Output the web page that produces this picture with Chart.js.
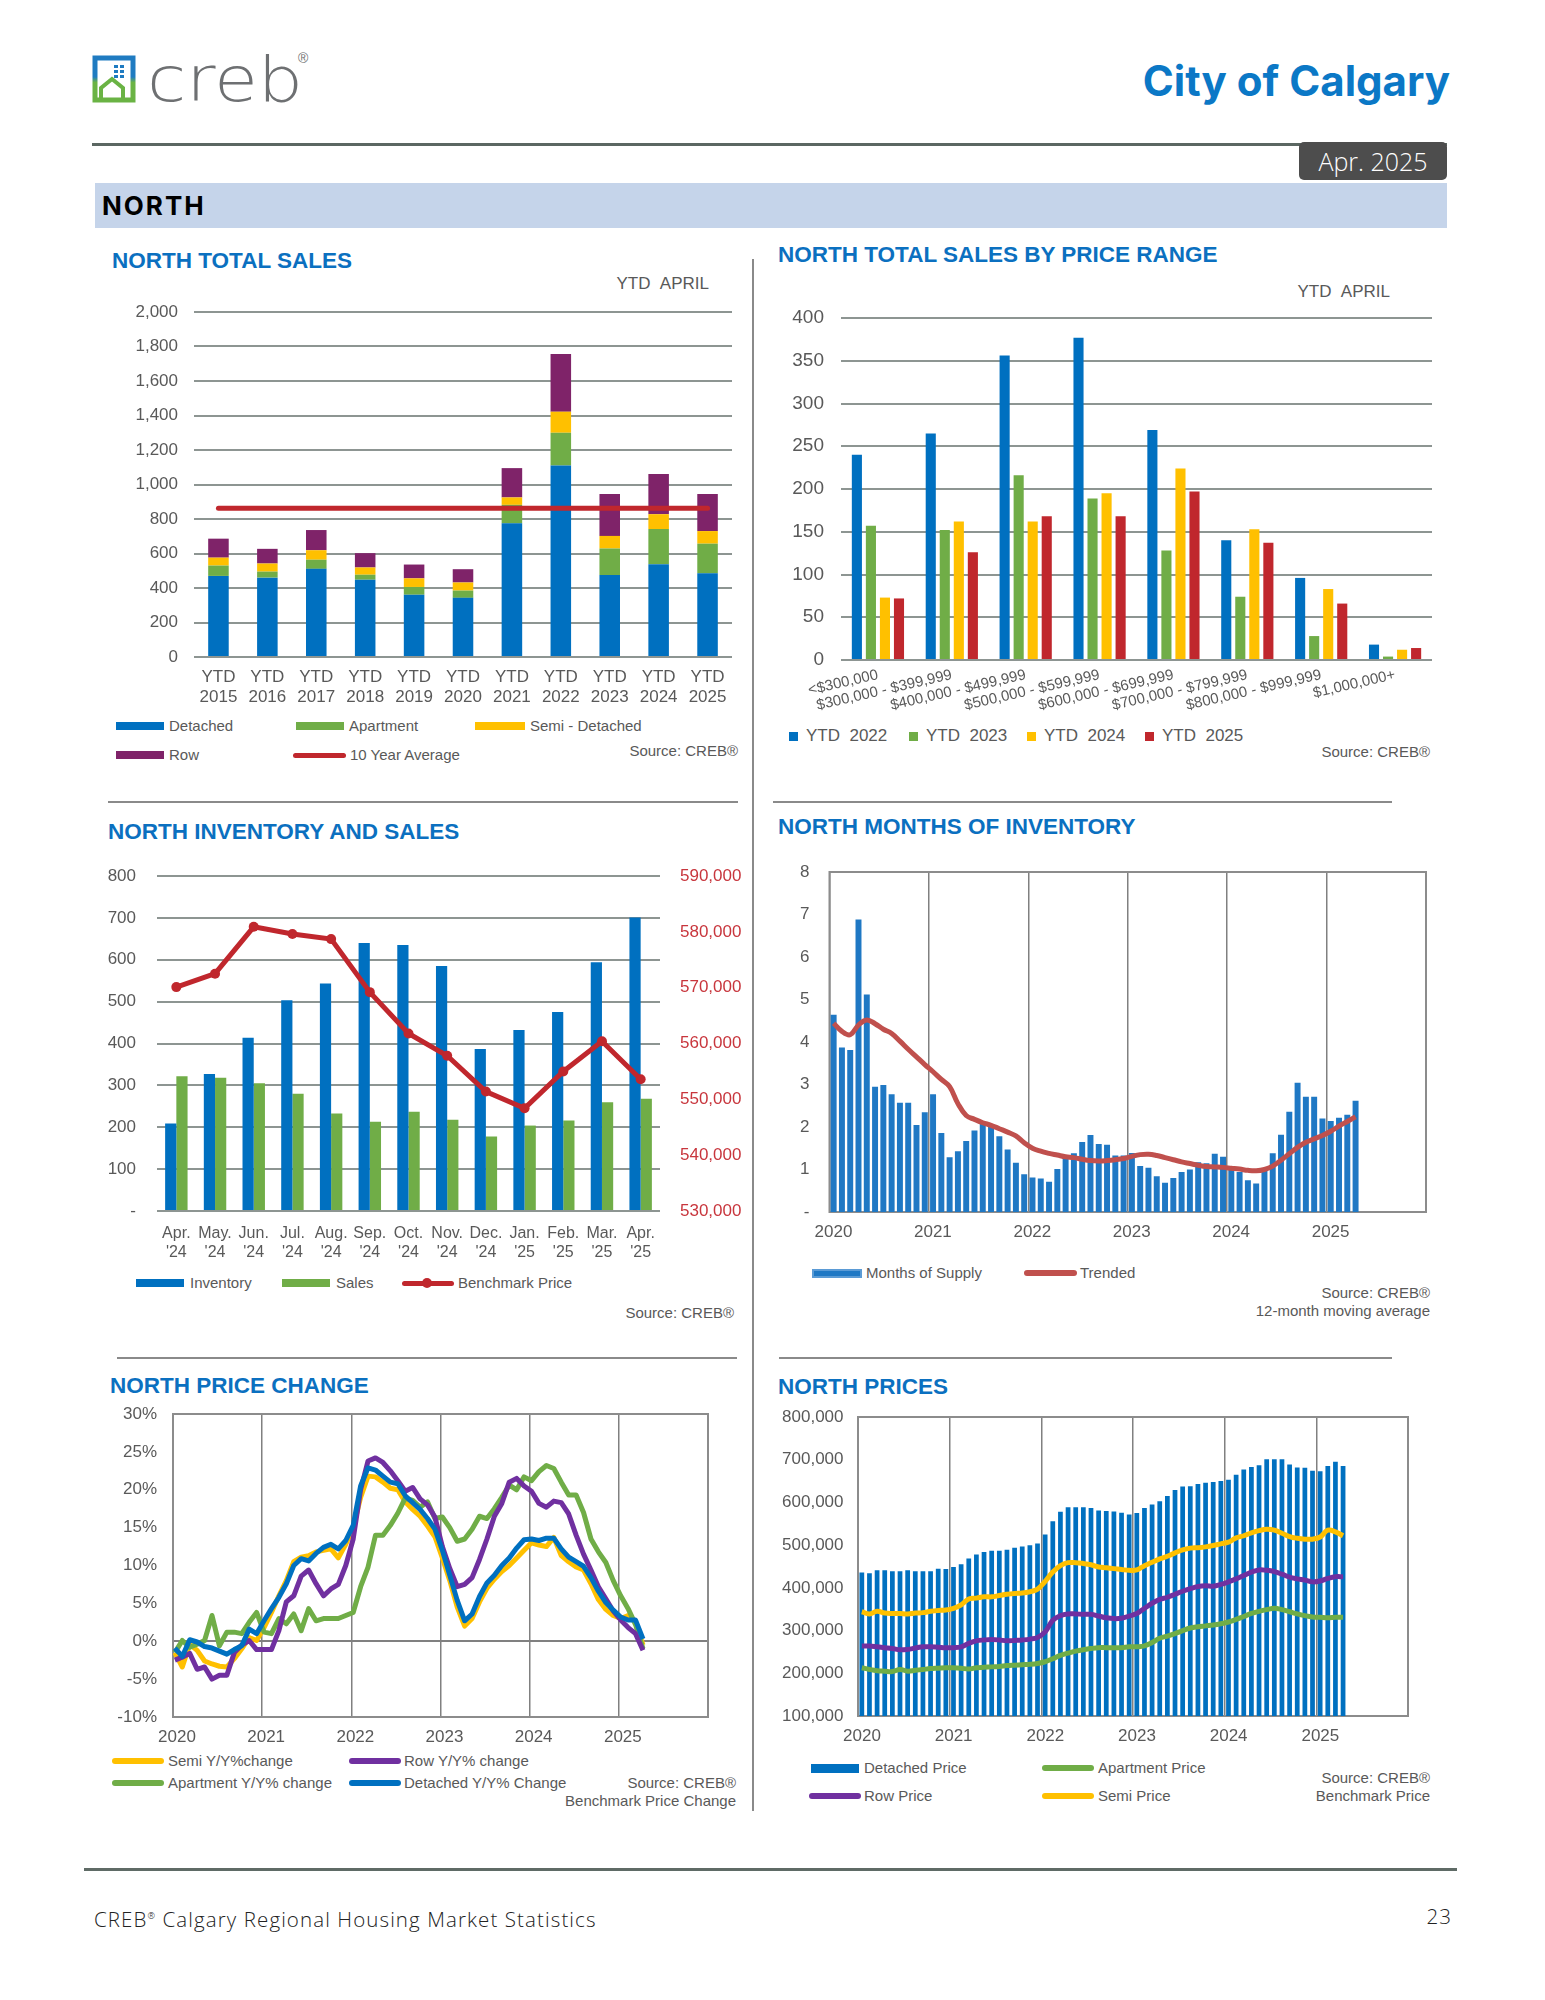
<!DOCTYPE html>
<html>
<head>
<meta charset="utf-8">
<script src="https://cdn.jsdelivr.net/npm/chart.js@4.4.1/dist/chart.umd.min.js"></script>
<style>
  body { margin: 0; background: #fff; width: 1545px; height: 2000px; position: relative; overflow: hidden;
         font-family: "Liberation Sans", Arial, sans-serif; }
  .abs { position: absolute; }
  .txt { position: absolute; white-space: nowrap; color: #595959; }
  canvas { position: absolute; }
</style>
</head>
<body>

<!-- header -->
<svg class="abs" style="left:92px;top:55px" width="44" height="48" viewBox="0 0 44 48">
  <defs>
    <linearGradient id="lg" x1="0" y1="0" x2="0" y2="1">
      <stop offset="0.45" stop-color="#1f7bc1"/>
      <stop offset="0.58" stop-color="#6ab344"/>
    </linearGradient>
  </defs>
  <path d="M3 3 H41 V45 H3 Z" fill="none" stroke="url(#lg)" stroke-width="5"/>
  <rect x="22" y="10" width="4" height="3" fill="#1f7bc1"/><rect x="28" y="10" width="4" height="3" fill="#1f7bc1"/>
  <rect x="22" y="15" width="4" height="3" fill="#1f7bc1"/><rect x="28" y="15" width="4" height="3" fill="#1f7bc1"/>
  <rect x="22" y="20" width="4" height="3" fill="#1f7bc1"/><rect x="28" y="20" width="4" height="3" fill="#1f7bc1"/>
  <path d="M9 45 V33 L20 24 L31 33 V45" fill="none" stroke="#6ab344" stroke-width="4"/>
</svg>
<div class="txt" style="left:147px;top:40px;font-family:'DejaVu Sans';font-weight:200;font-size:62px;line-height:80px;color:#6e7072;transform:scaleX(1.15);transform-origin:left top">creb</div>
<div class="txt" style="left:298px;top:50px;font-size:14px;color:#6e7072">®</div>
<div class="txt" style="right:95px;top:60px;font-family:Inter;font-weight:700;font-size:42px;line-height:42px;color:#0b78c6">City of Calgary</div>
<div class="abs" style="left:92px;top:143px;width:1355px;height:3px;background:#5b6762"></div>
<div class="abs" style="left:1299px;top:142px;width:148px;height:38px;background:#4d4d4d;border-radius:5px;color:#fff;font-family:'Open Sans';font-weight:300;font-size:25px;line-height:38px;text-align:center">Apr. 2025</div>
<div class="abs" style="left:95px;top:183px;width:1352px;height:45px;background:#c5d4ea"></div>
<div class="txt" style="left:102px;top:193px;font-family:Inter;font-weight:700;font-size:26px;line-height:26px;letter-spacing:2px;color:#000">NORTH</div>

<!-- dividers -->
<div class="abs" style="left:752px;top:259px;width:2px;height:1552px;background:#8a8a8a"></div>
<div class="abs" style="left:108px;top:801px;width:630px;height:2px;background:#8a8a8a"></div>
<div class="abs" style="left:773px;top:801px;width:619px;height:2px;background:#8a8a8a"></div>
<div class="abs" style="left:117px;top:1357px;width:620px;height:2px;background:#8a8a8a"></div>
<div class="abs" style="left:779px;top:1357px;width:613px;height:2px;background:#8a8a8a"></div>

<!-- footer -->
<div class="abs" style="left:84px;top:1868px;width:1373px;height:3px;background:#5f6b66"></div>
<div class="txt" style="left:94px;top:1902px;font-family:'Open Sans';font-weight:300;font-size:20.5px;line-height:28px;letter-spacing:1.1px;color:#222">CREB<sup style="font-size:9px">®</sup> Calgary Regional Housing Market Statistics</div>
<div class="txt" style="right:93px;top:1902px;font-family:'Open Sans';font-weight:300;font-size:20.5px;line-height:28px;letter-spacing:1px;color:#222">23</div>

<script>
// ---------------------------------------------------------------
// Data
// ---------------------------------------------------------------
const salesYears = [['YTD', '2015'], ['YTD', '2016'], ['YTD', '2017'], ['YTD', '2018'], ['YTD', '2019'], ['YTD', '2020'],
                    ['YTD', '2021'], ['YTD', '2022'], ['YTD', '2023'], ['YTD', '2024'], ['YTD', '2025']];
const detachedSales  = [470, 460, 511, 448, 361, 343, 775, 1110, 475, 538, 485];
const apartmentSales = [60, 35, 53, 29, 45, 42, 107, 190, 154, 204, 172];
const semiSales      = [46, 47, 55, 42, 50, 47, 43, 122, 73, 86, 73];
const rowSales       = [110, 85, 117, 83, 80, 77, 170, 335, 243, 233, 215];
const tenYearAverage = 862;

const priceRanges = ['<$300,000', '$300,000 - $399,999', '$400,000 - $499,999', '$500,000 - $599,999',
                     '$600,000 - $699,999', '$700,000 - $799,999', '$800,000 - $999,999', '$1,000,000+'];
const ytd2022 = [240, 265, 356, 377, 269, 140, 96, 18];
const ytd2023 = [157, 152, 216, 189, 128, 74, 28, 4];
const ytd2024 = [73, 162, 162, 195, 224, 153, 83, 12];
const ytd2025 = [72, 126, 168, 168, 197, 137, 66, 14];

const invMonths = [['Apr.', "'24"], ['May.', "'24"], ['Jun.', "'24"], ['Jul.', "'24"], ['Aug.', "'24"], ['Sep.', "'24"],
                   ['Oct.', "'24"], ['Nov.', "'24"], ['Dec.', "'24"], ['Jan.', "'25"], ['Feb.', "'25"], ['Mar.', "'25"], ['Apr.', "'25"]];
const inventory = [209, 327, 414, 503, 543, 640, 635, 585, 387, 432, 475, 594, 701];
const sales     = [322, 318, 305, 280, 233, 213, 237, 218, 178, 204, 216, 260, 268];
const benchmark = [570100, 572500, 580900, 579600, 578700, 569200, 561800, 557800, 551400, 548400, 555000, 560400, 553600];

// monthly, Jan 2020 .. Apr 2025
const firstYear = 2020;
const monthsOfSupply = [4.64, 3.87, 3.81, 6.88, 5.12, 2.95, 2.99, 2.77, 2.57, 2.57, 2.05, 2.35,
                        2.77, 1.86, 1.29, 1.43, 1.67, 1.92, 2.08, 2.00, 1.78, 1.47, 1.16, 0.89,
                        0.81, 0.79, 0.71, 1.01, 1.30, 1.38, 1.65, 1.81, 1.60, 1.58, 1.33, 1.33,
                        1.39, 1.08, 1.04, 0.84, 0.69, 0.80, 0.94, 1.00, 1.17, 1.15, 1.37, 1.30,
                        1.02, 0.94, 0.75, 0.67, 0.98, 1.38, 1.82, 2.36, 3.04, 2.71, 2.71, 2.20,
                        2.14, 2.22, 2.29, 2.62];
const trended = [4.44, 4.25, 4.17, 4.40, 4.52, 4.43, 4.30, 4.20, 4.02, 3.83, 3.65, 3.47,
                 3.30, 3.12, 2.95, 2.55, 2.27, 2.18, 2.10, 2.04, 1.96, 1.88, 1.79, 1.63,
                 1.50, 1.43, 1.38, 1.34, 1.30, 1.28, 1.24, 1.21, 1.20, 1.21, 1.23, 1.26,
                 1.31, 1.35, 1.36, 1.33, 1.28, 1.23, 1.18, 1.14, 1.10, 1.07, 1.06, 1.05,
                 1.03, 1.01, 0.98, 0.97, 1.00, 1.08, 1.22, 1.37, 1.52, 1.64, 1.72, 1.80,
                 1.90, 2.02, 2.13, 2.24];

const semiChange = [-1.5, -3.4, -0.4, -1.2, -2.6, -3.0, -3.3, -3.4, -2.3, -1.0, 0.5, 0.1,
                    1.8, 3.8, 6.0, 8.0, 10.5, 11.1, 11.3, 11.8, 12.0, 12.2, 11.0, 12.8,
                    15.0, 19.0, 21.8, 21.7, 21.0, 20.2, 20.0, 18.4, 17.4, 16.5, 15.2, 13.8,
                    11.0, 8.0, 4.5, 2.0, 3.0, 5.2, 7.0, 8.2, 9.2, 10.0, 11.0, 12.0,
                    13.0, 12.7, 12.5, 13.7, 11.3, 10.5, 9.8, 9.4, 7.6, 5.5, 4.2, 3.4,
                    3.0, 3.4, 2.5, -0.5];
const rowChange = [-2.5, -2.1, -1.6, -3.7, -3.4, -5.0, -4.5, -4.5, -1.5, -0.5, 0.1, -1.1,
                   -1.1, -1.1, 1.4, 5.2, 6.0, 8.6, 9.4, 7.6, 6.0, 6.9, 7.5, 10.0,
                   13.5, 20.0, 23.8, 24.2, 23.6, 22.5, 21.2, 19.8, 20.3, 18.8, 18.0, 16.4,
                   12.5, 9.6, 7.2, 7.5, 8.4, 10.8, 13.5, 16.5, 18.2, 21.0, 21.5, 20.5,
                   19.8, 18.2, 17.7, 18.5, 18.3, 16.8, 14.0, 11.5, 9.4, 7.2, 5.6, 4.0,
                   2.8, 1.8, 1.0, -1.2];
const apartmentChange = [-1.5, 0.1, -0.8, -0.4, 0.1, 3.4, -0.6, 1.2, 1.2, 1.0, 2.5, 3.8,
                         1.2, 1.0, 3.0, 2.3, 3.6, 1.4, 4.3, 2.7, 3.0, 3.0, 3.0, 3.4,
                         3.8, 7.2, 9.8, 14.0, 14.0, 15.3, 16.9, 18.9, 18.6, 17.7, 18.4, 16.2,
                         16.4, 15.0, 13.2, 13.5, 14.8, 16.5, 16.2, 17.5, 19.0, 20.6, 20.0, 21.7,
                         21.2, 22.4, 23.2, 22.8, 21.0, 19.3, 19.3, 17.0, 13.5, 11.8, 10.4, 8.0,
                         6.0, 4.3, 2.2, -1.0];
const detachedChange = [-0.9, -2.0, 0.2, -0.1, -0.7, -0.9, -1.3, -1.7, -1.1, -0.6, 1.6, 1.0,
                        2.7, 4.3, 5.8, 7.6, 10.0, 10.9, 10.6, 11.6, 12.4, 12.8, 12.2, 13.3,
                        15.3, 20.5, 22.9, 22.6, 21.8, 21.0, 20.8, 19.2, 18.3, 17.4, 16.2, 14.8,
                        12.0, 8.7, 5.4, 2.7, 3.6, 5.9, 7.7, 8.7, 10.0, 11.0, 12.3, 13.4,
                        13.5, 13.3, 13.6, 13.6, 12.2, 11.1, 10.5, 9.9, 8.4, 6.6, 5.1, 4.1,
                        3.2, 2.8, 2.8, 0.3];

const detachedPrice = [436000, 434000, 441000, 441000, 439000, 439000, 441000, 439000, 439000, 439000, 445000, 444000,
                       449000, 455000, 469000, 478000, 484000, 487000, 487000, 489000, 494000, 497000, 500000, 504000,
                       525000, 556000, 578000, 589000, 589000, 589000, 587000, 581000, 580000, 579000, 576000, 572000,
                       575000, 587000, 595000, 603000, 615000, 629000, 637000, 638000, 643000, 646000, 648000, 650000,
                       653000, 665000, 677000, 683000, 687000, 701000, 701000, 701000, 689000, 682000, 681000, 674000,
                       673000, 685000, 695000, 685000];
const apartmentPrice = [213000, 209000, 206000, 205000, 204000, 209000, 205000, 207000, 209000, 211000, 212000, 213000,
                        213000, 212000, 210000, 213000, 214000, 215000, 216000, 218000, 219000, 220000, 221000, 223000,
                        227000, 234000, 242000, 247000, 252000, 255000, 258000, 260000, 260000, 260000, 260000, 262000,
                        262000, 264000, 272000, 282000, 287000, 293000, 300000, 306000, 309000, 311000, 313000, 316000,
                        320000, 326000, 333000, 340000, 345000, 349000, 352000, 349000, 344000, 339000, 335000, 332000,
                        331000, 330000, 331000, 331000];
const rowPrice = [264000, 264000, 262000, 260000, 258000, 255000, 256000, 259000, 262000, 262000, 261000, 260000,
                  260000, 262000, 270000, 276000, 278000, 279000, 278000, 276000, 277000, 278000, 280000, 284000,
                  297000, 324000, 335000, 339000, 339000, 338000, 338000, 334000, 330000, 328000, 329000, 334000,
                  340000, 352000, 364000, 373000, 378000, 385000, 392000, 398000, 403000, 405000, 404000, 408000,
                  414000, 421000, 429000, 437000, 442000, 441000, 438000, 432000, 425000, 421000, 418000, 414000,
                  416000, 422000, 426000, 426000];
const semiPrice = [344000, 339000, 345000, 341000, 340000, 340000, 339000, 341000, 342000, 345000, 347000, 348000,
                   352000, 360000, 374000, 376000, 379000, 379000, 382000, 385000, 387000, 388000, 391000, 397000,
                   415000, 437000, 452000, 459000, 459000, 457000, 454000, 449000, 447000, 445000, 443000, 441000,
                   442000, 452000, 460000, 468000, 474000, 482000, 489000, 493000, 494000, 496000, 499000, 503000,
                   507000, 517000, 522000, 529000, 534000, 537000, 535000, 528000, 520000, 516000, 514000, 514000,
                   519000, 535000, 531000, 522000];

// ---------------------------------------------------------------
// Colours & helpers
// ---------------------------------------------------------------
const BLUE = '#0070c0', GREEN = '#70ad47', YELLOW = '#ffc000', PURPLE = '#7f2369', RED = '#c0272d';
const GRID = '#8d9592', GREY_TXT = '#595959', TITLE = '#0b70c0';

Chart.defaults.font.family = '"Liberation Sans", Arial, sans-serif';
Chart.defaults.color = GREY_TXT;
Chart.defaults.animation = false;
Chart.defaults.plugins.legend.display = false;
Chart.defaults.plugins.tooltip.enabled = false;

function txt(s, x, cy, size, o = {}) {
  const d = document.createElement('div');
  d.className = 'txt';
  d.innerHTML = s;
  d.style.fontSize = size + 'px';
  d.style.lineHeight = (size * 1.2) + 'px';
  d.style.top = (cy - size * 0.6) + 'px';
  if (o.right) d.style.right = (1545 - x) + 'px'; else d.style.left = x + 'px';
  if (o.color) d.style.color = o.color;
  if (o.bold) d.style.fontWeight = 'bold';
  document.body.appendChild(d);
}
function box(x, cy, w, h, color, radius = 0, extra = '') {
  const d = document.createElement('div');
  d.className = 'abs';
  d.style.cssText = `left:${x}px;top:${cy - h / 2}px;width:${w}px;height:${h}px;background:${color};border-radius:${radius}px;${extra}`;
  document.body.appendChild(d);
}
function makeCanvas(x, y, w, h) {
  const c = document.createElement('canvas');
  c.width = w; c.height = h;
  c.style.left = x + 'px'; c.style.top = y + 'px';
  c.style.width = w + 'px'; c.style.height = h + 'px';
  document.body.appendChild(c);
  return c;
}
const fmt = v => v.toLocaleString('en-US');
const monthly = (arr, off) => arr.map((v, i) => ({ x: i + off, y: v }));

// box round the plot area of the three time series charts
const frame = {
  id: 'frame',
  beforeDatasetsDraw(chart) {
    const { ctx, chartArea: a } = chart;
    ctx.save();
    ctx.strokeStyle = '#8c8c8c';
    ctx.lineWidth = 2;
    ctx.strokeRect(a.left, a.top, a.right - a.left, a.bottom - a.top);
    ctx.restore();
  }
};

const yearAxis = (h) => ({
  type: 'linear', min: 0, max: 72, offset: false,
  ticks: { stepSize: 12, autoSkip: false, maxRotation: 0, font: { size: 17 }, padding: 10, labelOffset: 4,
           callback: v => (v < 72 ? String(firstYear + v / 12) : '') },
  grid: { color: '#808080', lineWidth: 1.5, drawTicks: false, offset: false },
  border: { display: false },
  afterFit: s => { s.height = h; }
});
const noGrid = { display: false, drawTicks: false };

// ---------------------------------------------------------------
// 1. NORTH TOTAL SALES
// ---------------------------------------------------------------
txt('NORTH TOTAL SALES', 112, 260.5, 22.5, { bold: true, color: TITLE });
txt('YTD&nbsp;&nbsp;APRIL', 709, 284, 17, { right: true });
new Chart(makeCanvas(120, 285, 620, 428), {
  type: 'bar',
  data: {
    labels: salesYears,
    datasets: [
      { label: 'Detached', data: detachedSales, backgroundColor: BLUE, order: 1 },
      { label: 'Apartment', data: apartmentSales, backgroundColor: GREEN, order: 1 },
      { label: 'Semi - Detached', data: semiSales, backgroundColor: YELLOW, order: 1 },
      { label: 'Row', data: rowSales, backgroundColor: PURPLE, order: 1 },
      { type: 'line', label: '10 Year Average', stack: 'avg', data: salesYears.map(() => tenYearAverage),
        borderColor: RED, borderWidth: 5, borderCapStyle: 'round', pointRadius: 0, order: 0 }
    ]
  },
  options: {
    responsive: false,
    layout: { padding: { top: 27, right: 8, left: 0, bottom: 0 } },
    datasets: { bar: { barPercentage: 0.42, categoryPercentage: 1 } },
    scales: {
      x: { stacked: true, grid: noGrid, border: { display: false },
           ticks: { font: { size: 17 }, padding: 10, maxRotation: 0, autoSkip: false },
           afterFit: s => { s.height = 56; } },
      y: { stacked: true, min: 0, max: 2000,
           ticks: { stepSize: 200, font: { size: 17 }, padding: 16, callback: v => fmt(v) },
           grid: { color: GRID, lineWidth: 2, drawTicks: false }, border: { display: false },
           afterFit: s => { s.width = 74; } }
    }
  }
});
box(116, 726, 48, 8, BLUE);   txt('Detached', 169, 726, 15);
box(296, 726, 48, 8, GREEN);  txt('Apartment', 349, 726, 15);
box(475, 726, 50, 8, YELLOW); txt('Semi - Detached', 530, 726, 15);
box(116, 755, 48, 8, PURPLE); txt('Row', 169, 755, 15);
box(293, 755, 53, 5, RED, 3); txt('10 Year Average', 350, 755, 15);
txt('Source: CREB®', 738, 751, 15, { right: true });

// ---------------------------------------------------------------
// 2. NORTH TOTAL SALES BY PRICE RANGE
// ---------------------------------------------------------------
txt('NORTH TOTAL SALES BY PRICE RANGE', 778, 254.5, 22.5, { bold: true, color: TITLE });
txt('YTD&nbsp;&nbsp;APRIL', 1390, 292, 17, { right: true });
new Chart(makeCanvas(775, 289, 665, 431), {
  type: 'bar',
  data: {
    labels: priceRanges,
    datasets: [
      { label: 'YTD  2022', data: ytd2022, backgroundColor: BLUE },
      { label: 'YTD  2023', data: ytd2023, backgroundColor: GREEN },
      { label: 'YTD  2024', data: ytd2024, backgroundColor: YELLOW },
      { label: 'YTD  2025', data: ytd2025, backgroundColor: RED }
    ]
  },
  options: {
    responsive: false,
    layout: { padding: { top: 29, right: 8, left: 0, bottom: 0 } },
    datasets: { bar: { barPercentage: 0.72, categoryPercentage: 0.76 } },
    scales: {
      x: { grid: noGrid, border: { display: false },
           ticks: { font: { size: 15 }, minRotation: 13, maxRotation: 13, autoSkip: false, padding: 6 },
           afterFit: s => { s.height = 60; } },
      y: { min: 0, max: 400,
           ticks: { stepSize: 50, font: { size: 19 }, padding: 17 },
           grid: { color: GRID, lineWidth: 2, drawTicks: false }, border: { display: false },
           afterFit: s => { s.width = 66; } }
    }
  }
});
[[789, BLUE, 'YTD&nbsp;&nbsp;2022'], [909, GREEN, 'YTD&nbsp;&nbsp;2023'],
 [1027, YELLOW, 'YTD&nbsp;&nbsp;2024'], [1145, RED, 'YTD&nbsp;&nbsp;2025']].forEach(([x, c, s]) => {
  box(x, 736, 9, 9, c); txt(s, x + 17, 736, 17);
});
txt('Source: CREB®', 1430, 752, 15, { right: true });

// ---------------------------------------------------------------
// 3. NORTH INVENTORY AND SALES
// ---------------------------------------------------------------
txt('NORTH INVENTORY AND SALES', 108, 831, 22.5, { bold: true, color: TITLE });
new Chart(makeCanvas(100, 844, 645, 418), {
  type: 'bar',
  data: {
    labels: invMonths,
    datasets: [
      { type: 'line', label: 'Benchmark Price', data: benchmark, yAxisID: 'y1', borderColor: RED,
        backgroundColor: RED, borderWidth: 5, pointRadius: 5, pointBorderWidth: 0, tension: 0, order: 0 },
      { label: 'Inventory', data: inventory, backgroundColor: BLUE, order: 1 },
      { label: 'Sales', data: sales, backgroundColor: GREEN, order: 1 }
    ]
  },
  options: {
    responsive: false,
    layout: { padding: { top: 32, right: 0, left: 0, bottom: 0 } },
    datasets: { bar: { barPercentage: 1, categoryPercentage: 0.58 } },
    scales: {
      x: { grid: noGrid, border: { display: false },
           ticks: { font: { size: 16 }, padding: 13, maxRotation: 0, autoSkip: false },
           afterFit: s => { s.height = 51; } },
      y: { position: 'left', min: 0, max: 800,
           ticks: { stepSize: 100, font: { size: 17 }, padding: 21, callback: v => (v === 0 ? '-' : v) },
           grid: { color: GRID, lineWidth: 2, drawTicks: false }, border: { display: false },
           afterFit: s => { s.width = 57; } },
      y1: { position: 'right', min: 530000, max: 590000,
            ticks: { stepSize: 10000, font: { size: 17 }, padding: 20, color: '#c8363d', callback: v => fmt(v) },
            grid: noGrid, border: { display: false },
            afterFit: s => { s.width = 85; } }
    }
  }
});
box(136, 1283, 48, 8, BLUE);  txt('Inventory', 190, 1283, 15);
box(282, 1283, 48, 8, GREEN); txt('Sales', 336, 1283, 15);
box(402, 1283, 52, 5, RED, 3);
box(422, 1283, 10, 10, RED, 5);
txt('Benchmark Price', 458, 1283, 15);
txt('Source: CREB®', 734, 1313, 15, { right: true });

// ---------------------------------------------------------------
// 4. NORTH MONTHS OF INVENTORY
// ---------------------------------------------------------------
txt('NORTH MONTHS OF INVENTORY', 778, 826, 22.5, { bold: true, color: TITLE });
new Chart(makeCanvas(790, 841, 650, 409), {
  type: 'bar',
  data: {
    datasets: [
      { type: 'line', label: 'Trended', data: monthly(trended, 0.5), borderColor: '#c0504d',
        borderWidth: 5, pointRadius: 0, tension: 0.4, order: 0 },
      { label: 'Months of Supply', data: monthly(monthsOfSupply, 0.5), backgroundColor: '#1f78c4',
        barPercentage: 0.72, categoryPercentage: 1, order: 1 }
    ]
  },
  options: {
    responsive: false,
    layout: { padding: { top: 31, right: 14, left: 0, bottom: 0 } },
    scales: {
      x: yearAxis(38),
      y: { min: 0, max: 8,
           ticks: { stepSize: 1, font: { size: 17 }, padding: 20, callback: v => (v === 0 ? '-' : v) },
           grid: noGrid, border: { display: false },
           afterFit: s => { s.width = 39.5; } }
    }
  },
  plugins: [frame]
});
box(812, 1273, 50, 9, '#1f78c4', 0, 'box-shadow:inset 0 0 0 2px #5b9bd5');
txt('Months of Supply', 866, 1273, 15);
box(1024, 1273, 53, 6, '#c0504d', 3); txt('Trended', 1080, 1273, 15);
txt('Source: CREB®', 1430, 1293, 15, { right: true });
txt('12-month moving average', 1430, 1311, 15, { right: true });

// ---------------------------------------------------------------
// 5. NORTH PRICE CHANGE
// ---------------------------------------------------------------
txt('NORTH PRICE CHANGE', 110, 1385, 22.5, { bold: true, color: TITLE });
const changeLine = (label, data, color, order) => ({
  label, data: monthly(data, 0.25), borderColor: color, borderWidth: 5, pointRadius: 0,
  tension: 0, borderJoinStyle: 'round', order
});
new Chart(makeCanvas(110, 1387, 608, 365), {
  type: 'line',
  data: {
    datasets: [
      changeLine('Semi Y/Y%change', semiChange, YELLOW, 3),
      changeLine('Row Y/Y% change', rowChange, '#7030a0', 1),
      changeLine('Apartment Y/Y% change', apartmentChange, GREEN, 2),
      changeLine('Detached Y/Y% Change', detachedChange, BLUE, 0)
    ]
  },
  options: {
    responsive: false,
    layout: { padding: { top: 27, right: 10, left: 0, bottom: 0 } },
    scales: {
      x: yearAxis(35),
      y: { min: -10, max: 30,
           ticks: { stepSize: 5, font: { size: 17 }, padding: 16, callback: v => v + '%' },
           grid: { color: c => (c.tick.value === 0 ? '#808080' : 'rgba(0,0,0,0)'), lineWidth: 2, drawTicks: false },
           border: { display: false },
           afterFit: s => { s.width = 63; } }
    }
  },
  plugins: [frame]
});
box(112, 1761, 52, 6, YELLOW, 3);    txt('Semi Y/Y%change', 168, 1761, 15);
box(349, 1761, 52, 6, '#7030a0', 3); txt('Row Y/Y% change', 404, 1761, 15);
box(112, 1783, 52, 6, GREEN, 3);     txt('Apartment Y/Y% change', 168, 1783, 15);
box(349, 1783, 52, 6, BLUE, 3);      txt('Detached Y/Y% Change', 404, 1783, 15);
txt('Source: CREB®', 736, 1783, 15, { right: true });
txt('Benchmark Price Change', 736, 1801, 15, { right: true });

// ---------------------------------------------------------------
// 6. NORTH PRICES
// ---------------------------------------------------------------
txt('NORTH PRICES', 778, 1386.5, 22.5, { bold: true, color: TITLE });
const priceLine = (label, data, color) => ({
  type: 'line', label, data: monthly(data, 0.5), borderColor: color, borderWidth: 5,
  pointRadius: 0, tension: 0.4, order: 0
});
new Chart(makeCanvas(770, 1392, 648, 361), {
  type: 'bar',
  data: {
    datasets: [
      priceLine('Semi Price', semiPrice, YELLOW),
      priceLine('Row Price', rowPrice, '#7030a0'),
      priceLine('Apartment Price', apartmentPrice, GREEN),
      { label: 'Detached Price', data: monthly(detachedPrice, 0.5), backgroundColor: BLUE,
        base: 100000, clip: 0, barPercentage: 0.62, categoryPercentage: 1, order: 1 }
    ]
  },
  options: {
    responsive: false,
    layout: { padding: { top: 25, right: 10, left: 0, bottom: 0 } },
    scales: {
      x: yearAxis(37),
      y: { min: 100000, max: 800000, beginAtZero: false,
           ticks: { stepSize: 100000, font: { size: 17 }, padding: 14.5, callback: v => fmt(v) },
           grid: noGrid, border: { display: false },
           afterFit: s => { s.width = 88; } }
    }
  },
  plugins: [frame]
});
box(811, 1768, 48, 9, BLUE);          txt('Detached Price', 864, 1768, 15);
box(1042, 1768, 52, 6, GREEN, 3);     txt('Apartment Price', 1098, 1768, 15);
box(809, 1796, 52, 6, '#7030a0', 3);  txt('Row Price', 864, 1796, 15);
box(1042, 1796, 52, 6, YELLOW, 3);    txt('Semi Price', 1098, 1796, 15);
txt('Source: CREB®', 1430, 1778, 15, { right: true });
txt('Benchmark Price', 1430, 1796, 15, { right: true });
</script>
</body>
</html>
